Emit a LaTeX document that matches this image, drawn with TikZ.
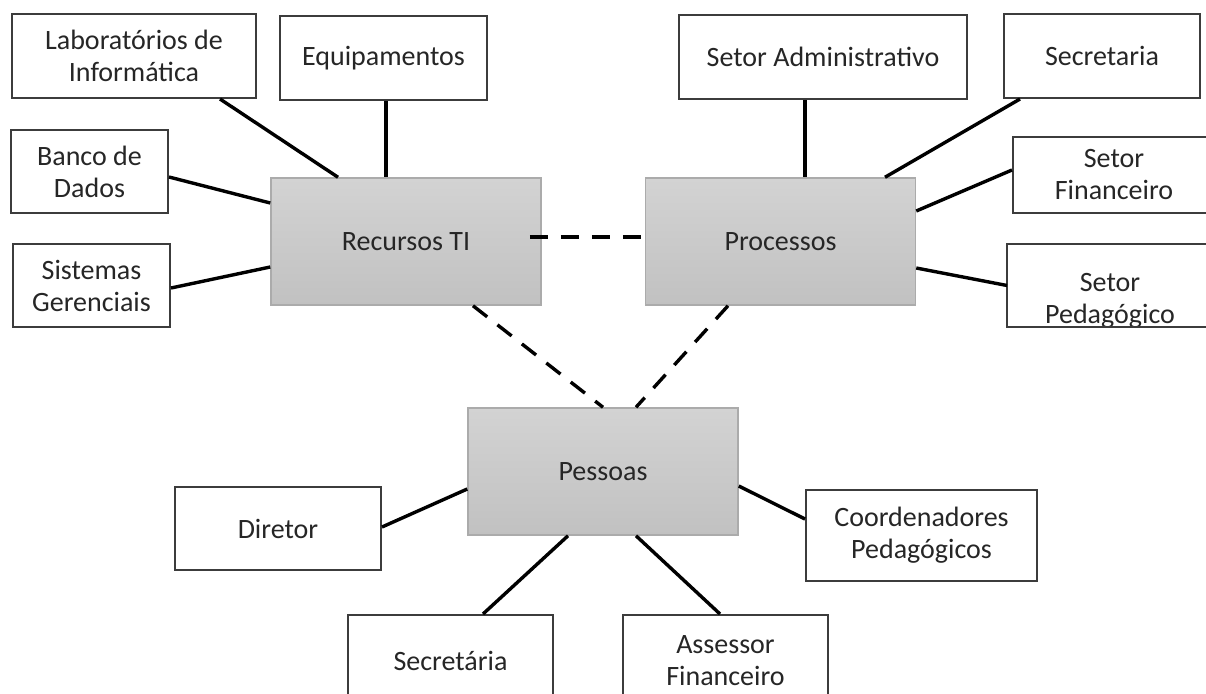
\documentclass[tikz,border=0pt]{standalone}
\usepackage{fontspec}
\setmainfont{Carlito}
\definecolor{ink}{HTML}{262626}
\definecolor{frame}{HTML}{3C3C3C}
\definecolor{hubtop}{HTML}{D3D3D3}
\definecolor{hubbot}{HTML}{C1C1C1}
\definecolor{hubline}{HTML}{ABABAB}

\begin{document}
\begin{tikzpicture}[x=1pt,y=-1pt,
  every node/.style={font=\fontsize{28}{32}\selectfont, text=ink, align=center, inner sep=0pt},
  leaf/.style={draw=frame, line width=2pt, fill=white, rectangle},
  hub/.style={draw=hubline, line width=1.5pt, top color=hubtop, bottom color=hubbot, rectangle,
              minimum width=270pt, minimum height=127pt},
  link/.style={line width=3.4pt, black},
  dlink/.style={line width=3.4pt, black, dash pattern=on 18pt off 13pt}]
\clip (0,0) rectangle (1206,693);
\fill[white] (0,0) rectangle (1206,693);

% central hubs
\node[hub] (rec)  at (406,241.5) {Recursos TI};
\node[hub] (proc) at (780.5,241.5) {Processos};
\node[hub] (pes)  at (603,471.5) {Pessoas};

% IT resources
\node[leaf, minimum width=244pt, minimum height=84pt] (lab)   at (134,56)     {Laboratórios de\\Informática};
\node[leaf, minimum width=207pt, minimum height=84pt] (equip) at (383.5,58)   {Equipamentos};
\node[leaf, minimum width=157pt, minimum height=83pt] (banco) at (89.5,171.5)  {Banco de\\Dados};
\node[leaf, minimum width=157pt, minimum height=83pt] (sist)  at (91.5,285.5)  {Sistemas\\Gerenciais};

% processes
\node[leaf, minimum width=288pt, minimum height=84pt] (adm) at (823,57)    {Setor Administrativo};
\node[leaf, minimum width=196pt, minimum height=84pt] (sec) at (1102,56)   {Secretaria};
\node[leaf, minimum width=202pt, minimum height=76pt] (fin) at (1114,175)  {Setor\\Financeiro};
% this box's label runs past its lower edge, so it is clipped and framed afterwards
\node[leaf, draw=none, minimum width=204pt, minimum height=81pt] (ped) at (1110,285.5) {};
\begin{scope}
  \clip (ped.south west) rectangle (ped.north east);
  \node at (1110,301) {Setor\\Pedagógico};
\end{scope}
\draw[frame, line width=2pt] (ped.south west) rectangle (ped.north east);

% people
\node[leaf, minimum width=206pt, minimum height=83pt] (dir)   at (278,528.5)   {Diretor};
\node[leaf, minimum width=231pt, minimum height=91pt] (coord) at (921.5,535.5) {Coordenadores\\Pedagógicos};
\node[leaf, minimum width=205pt, minimum height=92pt] (secr)  at (450.5,661)   {Secretária};
\node[leaf, minimum width=205pt, minimum height=92pt] (ass)   at (725.5,661)   {Assessor\\Financeiro};

% solid connectors
\draw[link] ([xshift=86pt]lab.south)     -- ([xshift=-68pt]rec.north);
\draw[link] ([xshift=2.5pt]equip.south)  -- ([xshift=-20pt]rec.north);
\draw[link] ([yshift=-5.5pt]banco.east)  -- ([yshift=38.5pt]rec.west);
\draw[link] ([yshift=-2.5pt]sist.east)   -- ([yshift=-25.5pt]rec.west);

\draw[link] ([xshift=-18pt]adm.south)    -- ([xshift=24.5pt]proc.north);
\draw[link] ([xshift=-82pt]sec.south)    -- ([xshift=104.5pt]proc.north);
\draw[link] ([yshift=5pt]fin.west)       -- ([yshift=30.5pt]proc.east);
\draw[link] (ped.west)                   -- ([yshift=-26.5pt]proc.east);

\draw[link] ([yshift=1.5pt]dir.east)     -- ([yshift=-17.5pt]pes.west);
\draw[link] ([yshift=-14.5pt]pes.east)   -- ([yshift=16.5pt]coord.west);
\draw[link] ([xshift=32.5pt]secr.north)  -- ([xshift=-35pt]pes.south);
\draw[link] ([xshift=-5.5pt]ass.north)   -- ([xshift=33pt]pes.south);

% dashed links between hubs
\draw[dlink] ([xshift=-12pt,yshift=4.5pt]rec.east) -- ([yshift=4.5pt]proc.west);
\draw[dlink] ([xshift=67pt]rec.south)    -- (pes.north);
\draw[dlink] ([xshift=-52.5pt]proc.south) -- ([xshift=33pt]pes.north);
\end{tikzpicture}
\end{document}
